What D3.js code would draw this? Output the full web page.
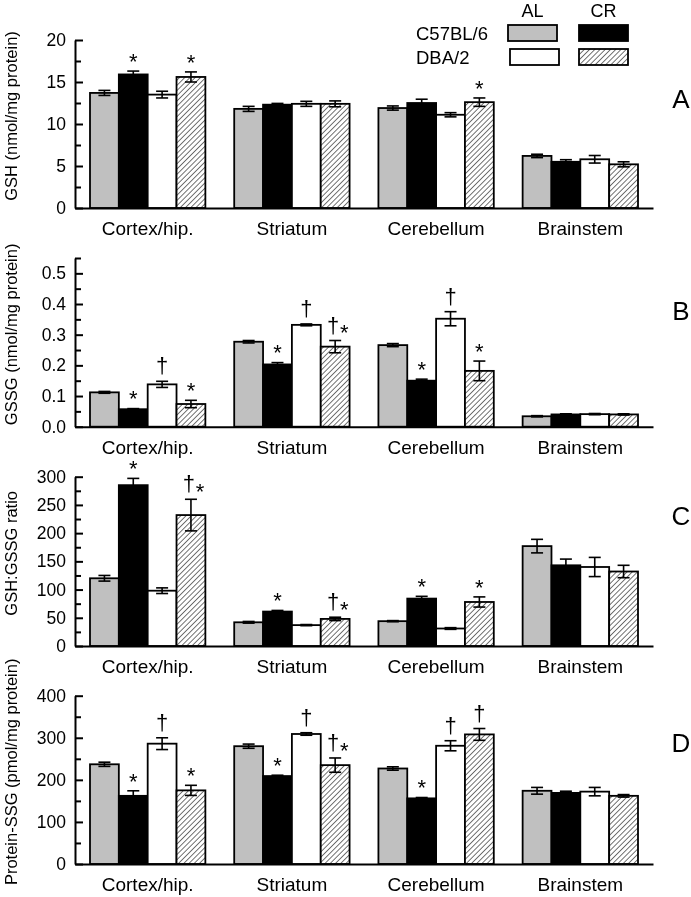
<!DOCTYPE html>
<html>
<head>
<meta charset="utf-8">
<script src="https://cdn.jsdelivr.net/npm/d3@7"></script>
<style>
  html, body { margin: 0; padding: 0; background: #fff; }
  svg { display: block; will-change: transform; }
  text { font-family: "Liberation Sans", Arial, sans-serif; fill: #000; }
</style>
</head>
<body>
<svg id="chart" width="691" height="897"></svg>
<script>
// ---------- DATA ----------
const regions = ["Cortex/hip.", "Striatum", "Cerebellum", "Brainstem"];
const groups = ["C57BL/6 AL", "C57BL/6 CR", "DBA/2 AL", "DBA/2 CR"];
const strains = ["C57BL/6", "DBA/2"];
const diets = ["AL", "CR"];

// rows = regions, columns = groups
const gshMean = [[13.7, 15.9, 13.5, 15.6], [11.8, 12.3, 12.4, 12.4], [11.9, 12.5, 11.1, 12.6], [6.2, 5.5, 5.8, 5.2]];
const gshErr  = [[0.3, 0.4, 0.4, 0.6], [0.3, 0.15, 0.3, 0.35], [0.25, 0.45, 0.25, 0.5], [0.2, 0.25, 0.45, 0.3]];
const gshSig  = [["", "*", "", "*"], ["", "", "", ""], ["", "", "", "*"], ["", "", "", ""]];
const gshTicks = [0, 5, 10, 15, 20];

const gssgMean = [[0.112, 0.057, 0.138, 0.074], [0.277, 0.203, 0.332, 0.261], [0.266, 0.150, 0.352, 0.182], [0.034, 0.040, 0.041, 0.040]];
const gssgErr  = [[0.003, 0.002, 0.010, 0.012], [0.004, 0.006, 0.003, 0.020], [0.005, 0.005, 0.023, 0.032], [0.002, 0.002, 0.002, 0.002]];
const gssgSig  = [["", "*", "†", "*"], ["", "*", "†", "†*"], ["", "*", "†", "*"], ["", "", "", ""]];
const gssgTicks = [0, 0.1, 0.2, 0.3, 0.4, 0.5];

const ratioMean = [[120, 285, 98, 232], [42, 61, 37, 48], [44, 84, 31, 78], [177, 143, 140, 132]];
const ratioErr  = [[5, 12, 5, 28], [1.5, 2, 1, 3], [1, 4, 1.5, 9], [12, 11, 17, 11]];
const ratioSig  = [["", "*", "", "†*"], ["", "*", "", "†*"], ["", "*", "", "*"], ["", "", "", ""]];
const ratioTicks = [0, 50, 100, 150, 200, 250, 300];

const pssgMean = [[237, 162, 286, 175], [280, 209, 309, 235], [227, 156, 281, 308], [174, 169, 172, 162]];
const pssgErr  = [[5, 12, 14, 12], [5, 2, 3, 17], [4, 2, 12, 14], [8, 4, 10, 3]];
const pssgSig  = [["", "*", "†", "*"], ["", "*", "†", "†*"], ["", "*", "†", "†"], ["", "", "", ""]];
const pssgTicks = [0, 100, 200, 300, 400];

// ---------- LAYOUT ----------
const FONT = "'Liberation Sans', Arial, sans-serif";
const panels = [
  { mean: gshMean, err: gshErr, sig: gshSig, ticks: gshTicks, max: 20, fmt: d3.format("d"),
    title: "GSH (nmol/mg protein)", letter: "A", y0: 208, yTop: 40, letterY: 98 },
  { mean: gssgMean, err: gssgErr, sig: gssgSig, ticks: gssgTicks, max: 0.55, fmt: d3.format(".1f"),
    title: "GSSG (nmol/mg protein)", letter: "B", y0: 426.7, yTop: 258, letterY: 310 },
  { mean: ratioMean, err: ratioErr, sig: ratioSig, ticks: ratioTicks, max: 300, fmt: d3.format("d"),
    title: "GSH:GSSG ratio", letter: "C", y0: 646, yTop: 476.7, letterY: 515 },
  { mean: pssgMean, err: pssgErr, sig: pssgSig, ticks: pssgTicks, max: 400, fmt: d3.format("d"),
    title: "Protein-SSG (pmol/mg protein)", letter: "D", y0: 864, yTop: 695.7, letterY: 742 }
];

const fills = ["#c0c0c0", "#000000", "#ffffff", "url(#hatch)"];

const svg = d3.select("#chart");
const defs = svg.append("defs");
const pat = defs.append("pattern")
  .attr("id", "hatch").attr("patternUnits", "userSpaceOnUse")
  .attr("width", 3.7).attr("height", 3.7)
  .attr("patternTransform", "rotate(45)");
pat.append("rect").attr("width", 3.7).attr("height", 3.7).attr("fill", "#fff");
pat.append("line").attr("x1", 0).attr("y1", 0).attr("x2", 0).attr("y2", 3.7)
  .attr("stroke", "#000").attr("stroke-width", 1.1);

const xAxisLeft = 75, xAxisRight = 653;
const x = d3.scaleBand().domain(regions).range([xAxisLeft, xAxisRight])
  .paddingInner(0.2).paddingOuter(0.104);
const xi = d3.scaleBand().domain(groups).range([0, x.bandwidth()]).padding(0);

const STAR = 22, DAG = 22;

panels.forEach(p => {
  const y = d3.scaleLinear().domain([0, p.max]).range([p.y0, p.yTop]);
  const g = svg.append("g");

  // bars
  regions.forEach((r, ri) => {
    groups.forEach((s, si) => {
      const m = p.mean[ri][si], e = p.err[ri][si];
      const bx = x(r) + xi(s), bw = xi.bandwidth();
      g.append("rect")
        .attr("x", bx).attr("y", y(m))
        .attr("width", bw).attr("height", y(0) - y(m))
        .attr("fill", fills[si]).attr("stroke", "#000").attr("stroke-width", 1.8);
      const cx = bx + bw / 2;
      const eg = g.append("g").attr("stroke", "#000").attr("stroke-width", 1.6);
      eg.append("line").attr("x1", cx).attr("x2", cx).attr("y1", y(m + e)).attr("y2", y(m - e));
      eg.append("line").attr("x1", cx - 6).attr("x2", cx + 6).attr("y1", y(m + e)).attr("y2", y(m + e));
      eg.append("line").attr("x1", cx - 6).attr("x2", cx + 6).attr("y1", y(m - e)).attr("y2", y(m - e));

      // significance marks
      const sig = p.sig[ri][si];
      const top = y(m + e);
      if (sig === "*") {
        g.append("text").attr("x", cx).attr("y", top - 15 + 0.58 * STAR)
          .attr("text-anchor", "middle").style("font-size", STAR + "px").text("*");
      } else if (sig === "†") {
        g.append("text").attr("x", cx).attr("y", top - 8)
          .attr("text-anchor", "middle").style("font-size", DAG + "px").text("†");
      } else if (sig === "†*") {
        g.append("text").attr("x", cx - 2).attr("y", top - 8)
          .attr("text-anchor", "middle").style("font-size", DAG + "px").text("†");
        g.append("text").attr("x", cx + 9).attr("y", top - 13 + 0.58 * STAR)
          .attr("text-anchor", "middle").style("font-size", STAR + "px").text("*");
      }
    });
  });

  // y axis (ticks point inward)
  const step = p.ticks[1] - p.ticks[0];
  const minor = d3.range(step / 2, p.max + 1e-9, step);
  const yMinor = g.append("g").attr("transform", `translate(${xAxisLeft},0)`)
    .call(d3.axisLeft(y).tickValues(minor).tickFormat("").tickSizeInner(-6).tickSizeOuter(0));
  yMinor.select(".domain").remove();
  const yAx = g.append("g").attr("transform", `translate(${xAxisLeft},0)`)
    .call(d3.axisLeft(y).tickValues(p.ticks).tickFormat(p.fmt).tickSizeInner(-8).tickSizeOuter(0).tickPadding(9));
  [yAx, yMinor].forEach(a => {
    a.selectAll("line").attr("stroke-width", 2);
    a.select(".domain").attr("stroke-width", 2);
  });
  yAx.selectAll("text").style("font-size", "17.5px").style("font-family", FONT);

  // x axis
  const xAx = g.append("g").attr("transform", `translate(0,${p.y0})`)
    .call(d3.axisBottom(x).tickSize(0).tickSizeOuter(0).tickPadding(14));
  xAx.select(".domain").attr("stroke-width", 2);
  xAx.selectAll("text").style("font-size", "19px").style("font-family", FONT);

  // axis title
  const cy = (p.y0 + p.yTop) / 2 - 8;
  g.append("text").attr("transform", `translate(17,${cy}) rotate(-90)`)
    .attr("text-anchor", "middle").style("font-size", "16.5px").text(p.title);

  // panel letter
  g.append("text").attr("x", 681).attr("y", p.letterY + 9.5)
    .attr("text-anchor", "middle").style("font-size", "26px").text(p.letter);
});

// ---------- LEGEND ----------
const lg = svg.append("g");
const colX = [508, 579], boxW = 49, rowY = [25, 49], boxH = 16;
diets.forEach((d, i) => {
  lg.append("text").attr("x", colX[i] + boxW / 2).attr("y", 17)
    .attr("text-anchor", "middle").style("font-size", "18px").text(d);
});
strains.forEach((s, j) => {
  lg.append("text").attr("x", 416).attr("y", rowY[j] + 14.5)
    .style("font-size", "18.5px").text(s);
  diets.forEach((d, i) => {
    lg.append("rect").attr("x", colX[i] + (j === 1 && i === 0 ? 2 : 0)).attr("y", rowY[j])
      .attr("width", boxW).attr("height", boxH)
      .attr("fill", fills[j * 2 + i]).attr("stroke", "#000").attr("stroke-width", 1.8);
  });
});
</script>
</body>
</html>
